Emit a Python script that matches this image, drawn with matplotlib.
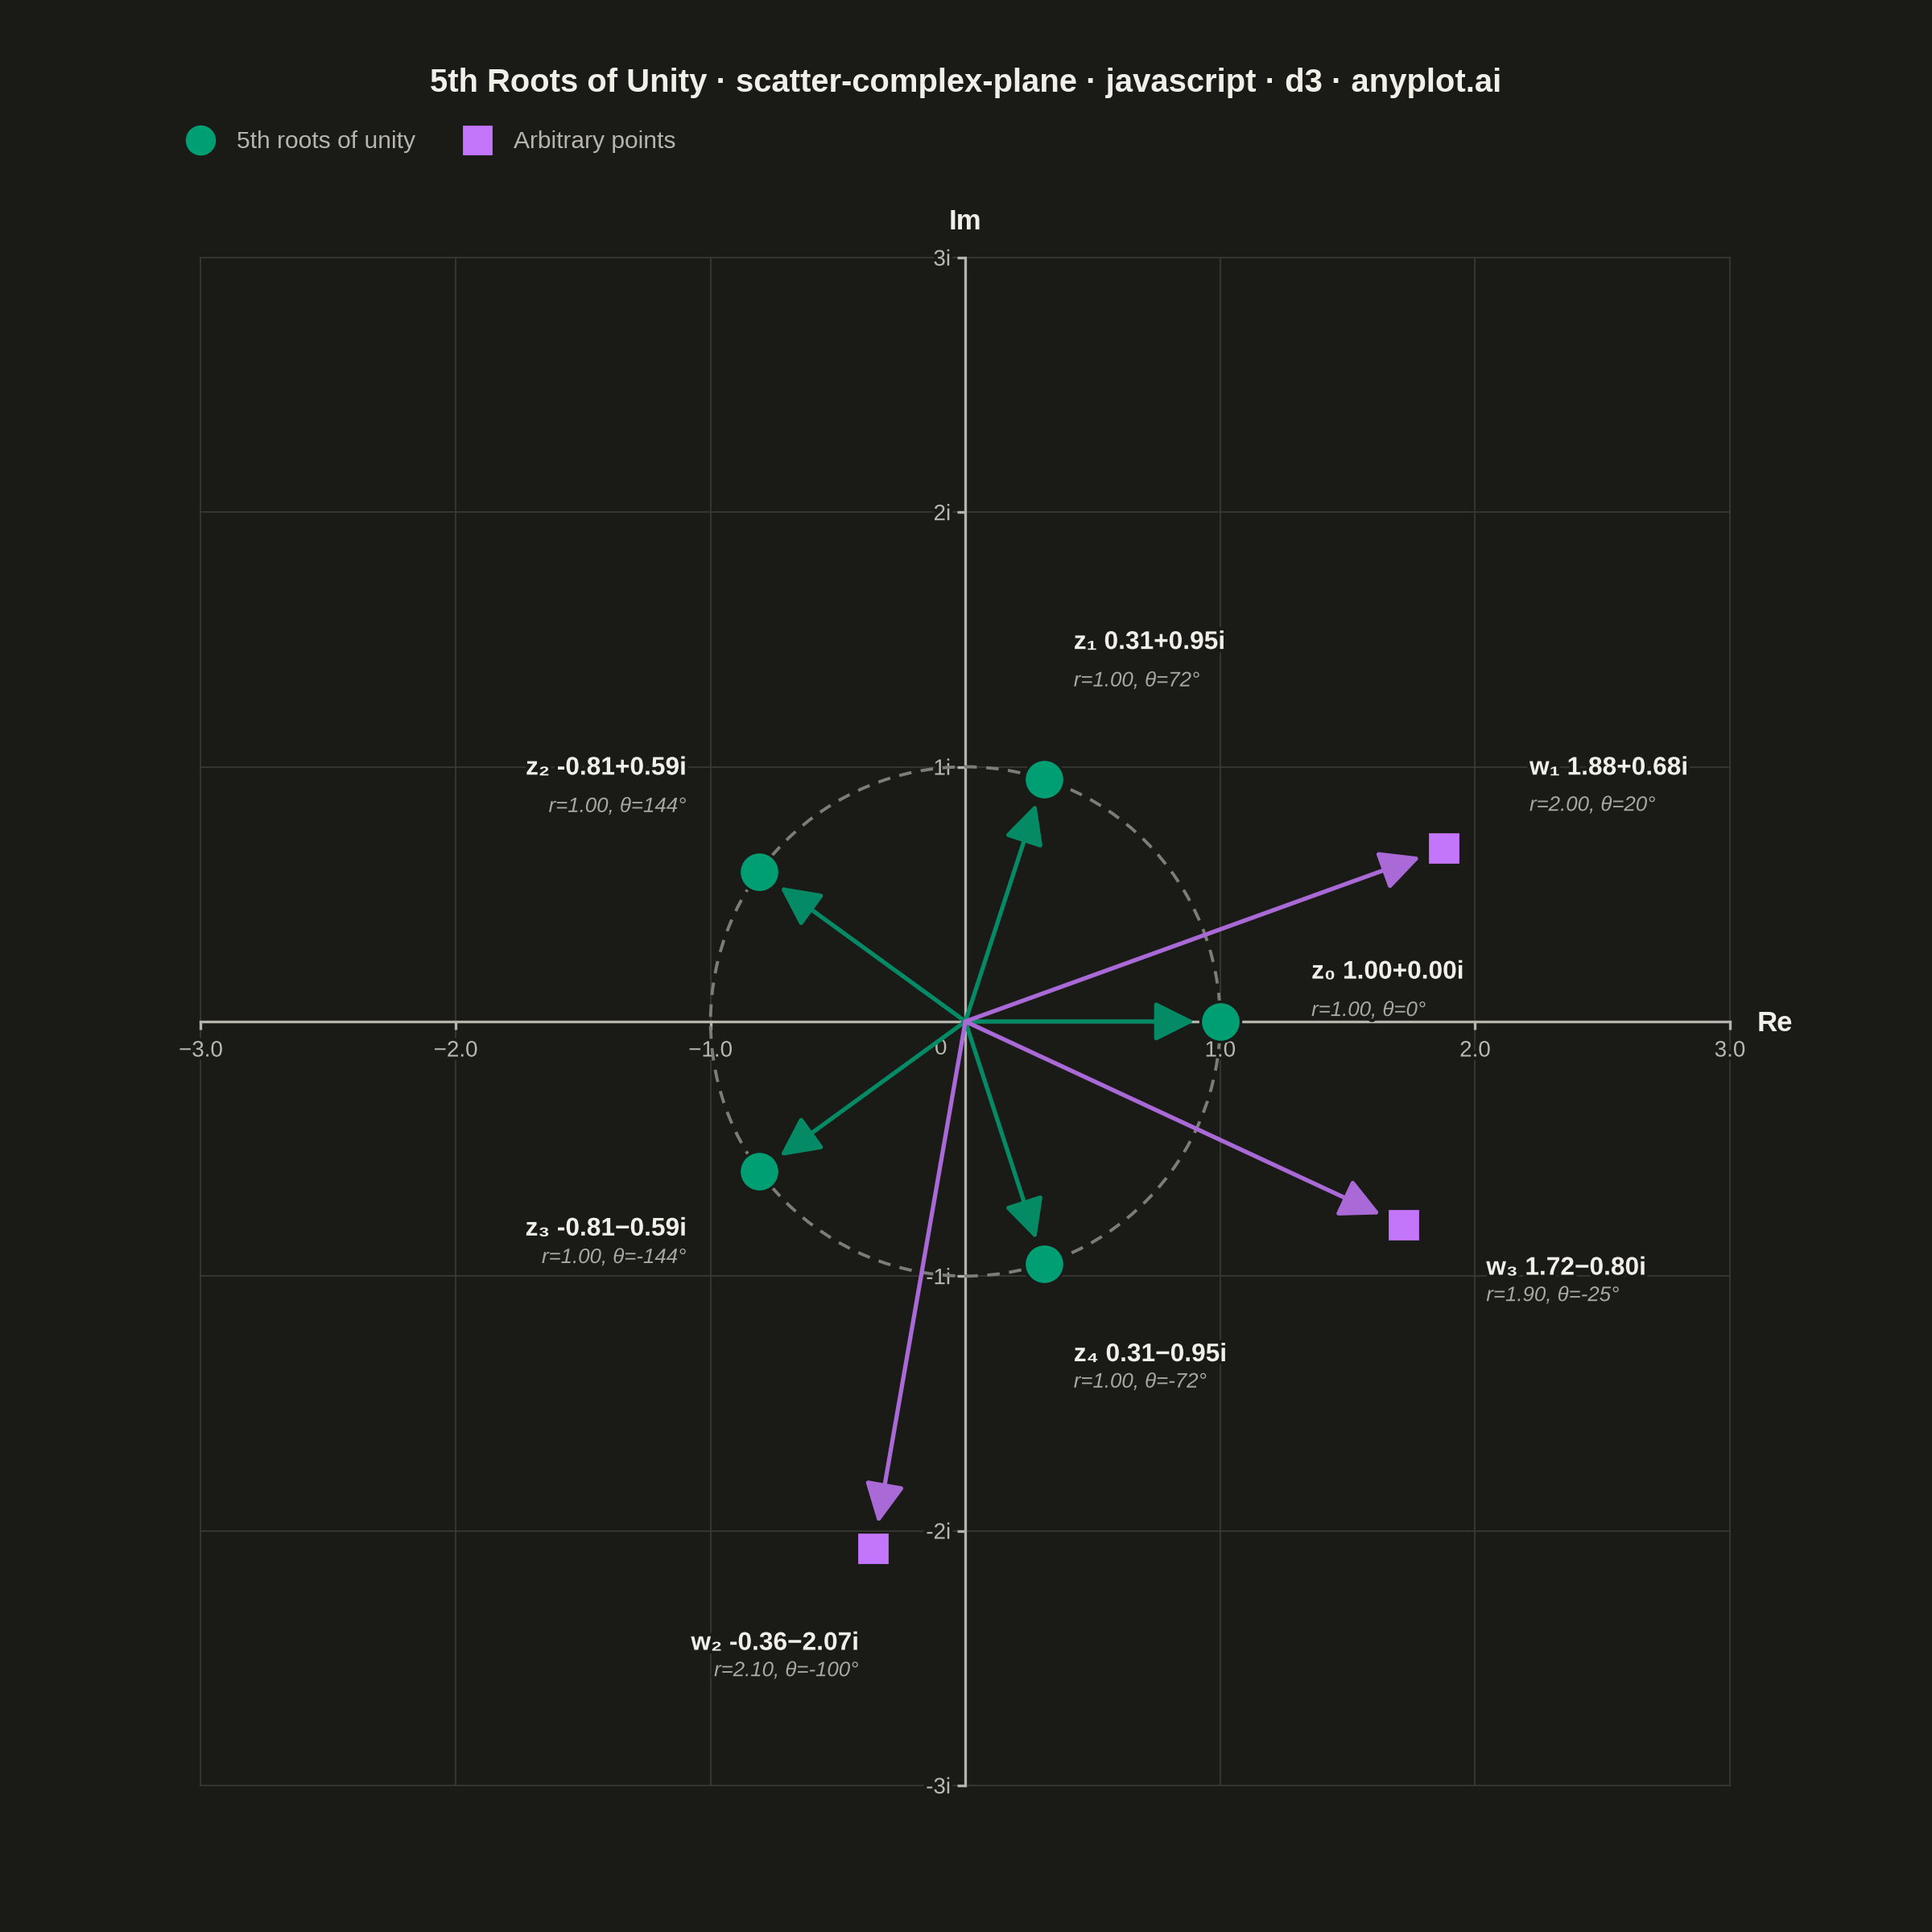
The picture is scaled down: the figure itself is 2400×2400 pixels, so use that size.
import numpy as np
import matplotlib
matplotlib.use("Agg")
import matplotlib.pyplot as plt
from matplotlib.lines import Line2D
from matplotlib.patches import Circle, FancyArrowPatch
import matplotlib.patheffects as pe

# ---------------- data ----------------
root_names = ["z\u2080", "z\u2081", "z\u2082", "z\u2083", "z\u2084"]
root_re = [1.000, 0.309, -0.809, -0.809, 0.309]
root_im = [0.000, 0.951, 0.588, -0.588, -0.951]
root_r = [1.00, 1.00, 1.00, 1.00, 1.00]
root_theta = [0, 72, 144, -144, -72]

arb_names = ["w\u2081", "w\u2082", "w\u2083"]
arb_re = [1.88, -0.36, 1.72]
arb_im = [0.68, -2.07, -0.80]
arb_r = [2.00, 2.10, 1.90]
arb_theta = [20, -100, -25]

x_ticks = [-3, -2, -1, 1, 2, 3]
x_tick_labels = ["\u22123.0", "\u22122.0", "\u22121.0", "1.0", "2.0", "3.0"]
y_ticks = [-3, -2, -1, 1, 2, 3]
y_tick_labels = ["-3i", "-2i", "-1i", "1i", "2i", "3i"]

title = "5th Roots of Unity \u00b7 scatter-complex-plane \u00b7 javascript \u00b7 d3 \u00b7 anyplot.ai"
legend_labels = ["5th roots of unity", "Arbitrary points"]

# ---------------- style ----------------
BG = "#1A1A17"
GRID = "#3A3A36"
AXIS = "#B4B4AC"
TICKTXT = "#B8B8B0"
TXT = "#F0EFE8"
SUBTXT = "#A8A8A0"
GREEN = "#009E73"
GREEN_ARROW = "#048A65"
PURPLE = "#C476FA"
PURPLE_ARROW = "#A96AD8"
FONT = ["Liberation Sans", "DejaVu Sans"]
plt.rcParams["font.family"] = FONT

S = 2400 / 1568.0  # reference display px -> output px
VC = 3  # vertical centring correction (reference display px)

# label offsets in reference display px: (dx, dy_bold, dy_italic, ha)
root_label_off = [(74, -43, -12, "left"), (24, -114, -83, "left"),
                  (-59, -87, -56, "right"), (-59, 44, 67, "right"),
                  (24, 71, 93, "left")]
arb_label_off = [(69, -68, -38, "left"), (-12, 74, 96, "right"),
                 (67, 32, 54, "left")]

fig = plt.figure(figsize=(12, 12), dpi=200, facecolor=BG)
ax = fig.add_axes([163 / 1568, 1 - 1449 / 1568, 1241 / 1568, 1240 / 1568])
ax.set_facecolor(BG)
ax.set_xlim(-3, 3)
ax.set_ylim(-3, 3)

# grid
for v in x_ticks:
    ax.axvline(v, color=GRID, lw=0.6, zorder=0.2, clip_on=False)
for v in y_ticks:
    ax.axhline(v, color=GRID, lw=0.6, zorder=0.2, clip_on=False)

# axes through origin
for s in ["top", "right"]:
    ax.spines[s].set_visible(False)
for s in ["left", "bottom"]:
    ax.spines[s].set_position(("data", 0))
    ax.spines[s].set_color(AXIS)
    ax.spines[s].set_linewidth(1.2)
    ax.spines[s].set_zorder(1)
ax.set_xticks(x_ticks)
ax.set_xticklabels(x_tick_labels)
ax.set_yticks(y_ticks)
ax.set_yticklabels(y_tick_labels)
ax.tick_params(axis="both", direction="out", length=3.5, width=1.2, color=AXIS,
               labelcolor=TICKTXT, labelsize=10)
ax.tick_params(axis="x", pad=5)
ax.tick_params(axis="y", pad=3)
for lab in ax.get_xticklabels() + ax.get_yticklabels():
    lab.set_path_effects([pe.withStroke(linewidth=3, foreground=BG)])
ax.annotate("0", xy=(0, 0), xytext=(-20 * S, -22 * S), textcoords="offset pixels",
            ha="center", va="center", color=TICKTXT, fontsize=10, zorder=1)

# axis titles
ax.annotate("Im", xy=(0, 3), xytext=(0, (32 - VC) * S), textcoords="offset pixels",
            ha="center", va="center", color=TXT, fontsize=12.5, fontweight="bold",
            annotation_clip=False)
ax.annotate("Re", xy=(3, 0), xytext=(22 * S, -2 * S), textcoords="offset pixels",
            ha="left", va="center", color=TXT, fontsize=12.5, fontweight="bold",
            annotation_clip=False)

# unit circle
ax.add_patch(Circle((0, 0), 1.0, fill=False, ec="#7C7C78", lw=1.4,
                    linestyle=(0, (4, 3)), zorder=2))

# arrows
def arrow(x, y, color):
    ax.add_patch(FancyArrowPatch((0, 0), (x, y),
                 arrowstyle="-|>,head_length=15,head_width=7.5",
                 mutation_scale=1, color=color, lw=1.9,
                 shrinkA=0, shrinkB=11.5, zorder=3))

for x, y in zip(root_re, root_im):
    arrow(x, y, GREEN_ARROW)
for x, y in zip(arb_re, arb_im):
    arrow(x, y, PURPLE_ARROW)

# markers
ax.plot(root_re, root_im, "o", ms=18, mfc=GREEN, mec=BG, mew=1.2, ls="none", zorder=5)
ax.plot(arb_re, arb_im, "s", ms=14.5, mfc=PURPLE, mec=BG, mew=0.8, ls="none", zorder=5)

# labels
halo = [pe.withStroke(linewidth=3, foreground=BG)]

def fmt_val(x, y):
    sign = "+" if y >= 0 else "\u2212"
    return f"{x:.2f}{sign}{abs(y):.2f}i"

def label(name, x, y, r, th, off):
    dx, dyb, dyi, ha = off
    ax.annotate(f"{name} {fmt_val(x, y)}", xy=(x, y), xytext=(dx * S, -(dyb + VC) * S),
                textcoords="offset pixels", ha=ha, va="center", color=TXT,
                fontsize=11.4, fontweight="bold", path_effects=halo, zorder=6)
    ax.annotate(f"r={r:.2f}, \u03b8={th}\u00b0", xy=(x, y), xytext=(dx * S, -(dyi + VC) * S),
                textcoords="offset pixels", ha=ha, va="center", color=SUBTXT,
                fontsize=9.3, fontstyle="italic", path_effects=halo, zorder=6)

for i in range(len(root_names)):
    label(root_names[i], root_re[i], root_im[i], root_r[i], root_theta[i], root_label_off[i])
for i in range(len(arb_names)):
    label(arb_names[i], arb_re[i], arb_im[i], arb_r[i], arb_theta[i], arb_label_off[i])

# title
fig.text(0.5, 1 - (64 + VC) / 1568, title, ha="center", va="center", color=TXT,
         fontsize=14.4, fontweight="bold")

# legend
handles = [Line2D([], [], marker="o", ls="none", ms=12.5, mfc=GREEN, mec=GREEN),
           Line2D([], [], marker="s", ls="none", ms=12, mfc=PURPLE, mec=PURPLE)]
leg = fig.legend(handles, legend_labels, loc="center left",
                 bbox_to_anchor=(151 / 1568, 1 - 115 / 1568), ncol=2, frameon=False,
                 fontsize=10.8, labelcolor="#B5B5AD", handlelength=1.2,
                 handletextpad=0.9, columnspacing=1.95, borderpad=0, borderaxespad=0)

fig.savefig("out.png", dpi=200, facecolor=BG)
